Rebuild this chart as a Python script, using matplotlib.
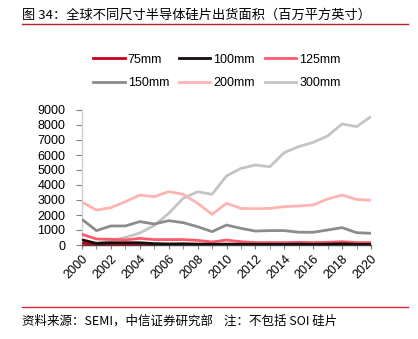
import matplotlib
matplotlib.use("Agg")
import matplotlib.pyplot as plt
from matplotlib.lines import Line2D

plt.rcParams['font.family'] = ['Liberation Sans', 'Noto Sans CJK SC', 'DejaVu Sans']

years = list(range(2000, 2021))
s75 = [120, 40, 60, 50, 50, 40, 40, 40, 30, 30, 40, 30, 30, 30, 30, 30, 30, 30, 40, 30, 30]
s100 = [340, 110, 150, 150, 150, 90, 70, 80, 60, 50, 60, 50, 50, 50, 50, 60, 50, 60, 80, 50, 50]
s125 = [710, 400, 380, 340, 440, 360, 360, 360, 310, 200, 330, 220, 160, 160, 160, 180, 160, 180, 220, 160, 160]
s150 = [1710, 960, 1270, 1270, 1560, 1400, 1620, 1490, 1220, 890, 1330, 1110, 930, 960, 960, 850, 850, 1000, 1160, 820, 780]
s200 = [2850, 2330, 2490, 2890, 3330, 3220, 3560, 3380, 2780, 2040, 2780, 2440, 2420, 2440, 2560, 2600, 2670, 3070, 3330, 3040, 2980]
s300 = [150, 100, 300, 500, 800, 1300, 2110, 3110, 3550, 3380, 4600, 5110, 5330, 5220, 6160, 6560, 6840, 7270, 8070, 7890, 8560]

labels = ['75mm', '100mm', '125mm', '150mm', '200mm', '300mm']
series = [s75, s100, s125, s150, s200, s300]
colors = ['#C8001E', '#1A0A0A', '#FF5A6E', '#8C8C8C', '#FFB3B3', '#C4C4C4']

xticks = list(range(2000, 2021, 2))
yticks = list(range(0, 9001, 1000))

fig = plt.figure(figsize=(4.18, 3.39), dpi=100)
W, H = 418, 339
ax = fig.add_axes([82 / W, 1 - 245 / H, (371 - 82) / W, (245 - 110) / H])

order = [5, 4, 3, 2, 0, 1]
for z, i in enumerate(order):
    ax.plot(years, series[i], color=colors[i], lw=2.0, solid_capstyle='butt', zorder=2 + z)

ax.set_xlim(2000, 2020)
ax.set_ylim(0, 9000)
ax.set_xticks(xticks)
ax.set_xticks(years, minor=True)
ax.set_xticklabels([str(x) for x in xticks], rotation=45, ha='right', va='top',
                   rotation_mode='anchor', fontsize=9)
ax.set_yticks(yticks)
ax.set_yticklabels([str(y) for y in yticks], fontsize=9)
for s in ['top', 'right']:
    ax.spines[s].set_visible(False)
ax.spines['left'].set_color('#D0D0D0')
ax.spines['left'].set_linewidth(1.0)
ax.spines['bottom'].set_color('#404040')
ax.spines['bottom'].set_linewidth(1.0)
ax.tick_params(axis='y', length=4, color='#808080', pad=8)
ax.tick_params(axis='x', which='both', length=3, color='#808080', pad=3)

handles = [Line2D([], [], color=c, lw=2.0) for c in colors]
leg_order = [0, 3, 1, 4, 2, 5]
fig.legend([handles[i] for i in leg_order], [labels[i] for i in leg_order], ncol=3,
           loc='center', bbox_to_anchor=(217 / W, 1 - 71.5 / H),
           frameon=False, fontsize=9, handlelength=2.5, handletextpad=0.25,
           columnspacing=0.8, labelspacing=0.95)

fig.text(22 / W, 1 - 15 / H, '图 34：全球不同尺寸半导体硅片出货面积（百万平方英寸）',
         fontsize=9.5, va='center', ha='left', family=['Noto Sans CJK SC', 'DejaVu Sans'])
fig.add_artist(Line2D([22 / W, 408 / W], [1 - 23.5 / H, 1 - 23.5 / H], color='#B22222', lw=1.0))
fig.add_artist(Line2D([22 / W, 408 / W], [1 - 307 / H, 1 - 307 / H], color='#D03030', lw=1.0))
fig.text(22 / W, 1 - 321 / H, '资料来源：SEMI，中信证券研究部    注：不包括 SOI 硅片',
         fontsize=9, va='center', ha='left', family=['Noto Sans CJK SC', 'DejaVu Sans'])

fig.savefig('out.png', dpi=100)
